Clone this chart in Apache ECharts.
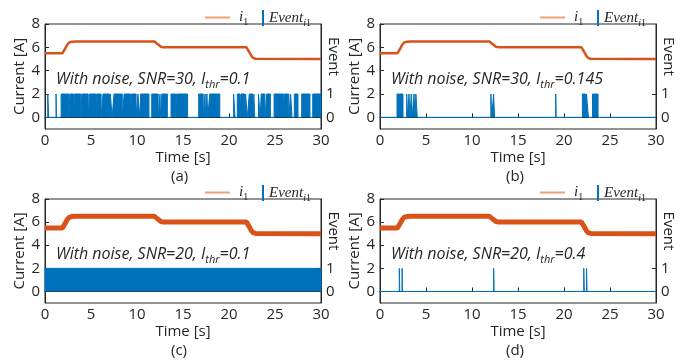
<!DOCTYPE html>
<html>
<head>
<meta charset="utf-8">
<script src="https://cdn.jsdelivr.net/npm/echarts@6/dist/echarts.min.js"></script>
<style>
  html, body { margin: 0; padding: 0; background: #fff; }
  #chart { width: 694px; height: 364px; }
</style>
</head>
<body>
<div id="chart"></div>
<script>
// current trace (same load profile in every panel)
const currentTime = [0, 1.9, 2.0, 2.2, 2.4, 2.6, 2.9, 3.3, 11.9, 12.0, 12.2, 12.4, 12.6, 12.9, 21.9, 22.0, 22.2, 22.4, 22.6, 22.9, 30];
const currentValue = [5.5, 5.5, 5.55, 5.9, 6.2, 6.4, 6.48, 6.5, 6.5, 6.48, 6.3, 6.15, 6.05, 6.0, 6.0, 5.95, 5.6, 5.3, 5.1, 5.02, 5.0];

// event = 1 intervals [start, end] in seconds
const eventsA = [
  [0.3, 0.4], [1.2, 1.25], [1.75, 2.6], [2.7, 3.1], [3.2, 3.9], [4.0, 4.7], [4.85, 5.6], [5.7, 6.1],
  [6.3, 7.0], [7.1, 7.3], [7.5, 8.4], [8.6, 9.3], [9.4, 9.9], [10.1, 10.3], [10.4, 11.3], [11.6, 12.3],
  [12.5, 12.55], [12.7, 13.3], [13.7, 14.2], [14.3, 15.5], [16.7, 17.2], [17.4, 17.45], [17.6, 17.7],
  [17.9, 19.0], [20.5, 20.65], [20.9, 21.2], [21.3, 21.7], [21.8, 22.0], [22.2, 22.6], [22.7, 22.8],
  [23.2, 23.4], [23.5, 23.9], [24.1, 24.5], [24.9, 25.9], [26.0, 26.5], [26.7, 26.85], [27.1, 27.5],
  [27.9, 28.8], [29.1, 30]
];
const eventsB = [
  [1.85, 2.1], [2.15, 2.5], [2.9, 3.0], [3.15, 3.25], [3.4, 3.5], [3.7, 3.8], [3.9, 4.05],
  [12.05, 12.15], [12.35, 12.45], [19.1, 19.15], [22.0, 22.35], [22.45, 22.65], [23.1, 23.35], [23.4, 23.7]
];
const eventsC = [[0, 30]];
const eventsD = [[2.1, 2.15], [2.4, 2.45], [12.35, 12.4], [22.15, 22.2], [22.45, 22.5]];

const leftTicks = [0, 2, 4, 6, 8];
const rightTicks = [0, 1];

const panels = [
  { tag: '(a)', snr: '30', thr: '0.1', events: eventsA, left: 45, top: 24, height: 105, lw: 2.5 },
  { tag: '(b)', snr: '30', thr: '0.145', events: eventsB, left: 380, top: 24, height: 105, lw: 2.5 },
  { tag: '(c)', snr: '20', thr: '0.1', events: eventsC, left: 45, top: 199, height: 104, lw: 5 },
  { tag: '(d)', snr: '20', thr: '0.4', events: eventsD, left: 380, top: 199, height: 104, lw: 5 }
];

const BLUE = '#0072BD';
const ORANGE = '#D95319';
const LEGEND_ORANGE = '#F0A070';
const INK = '#262626';
const SANS = 'Open Sans';
const SERIF = 'Liberation Serif';

function stepData(intervals) {
  const d = [[0, 0]];
  intervals.forEach(([s, e]) => { d.push([s, 0], [s, 1], [e, 1], [e, 0]); });
  d.push([30, 0]);
  return d;
}

const currentData = currentTime.map((t, i) => [t, currentValue[i]]);

const grid = [], xAxis = [], yAxis = [], series = [], legend = [], title = [];

panels.forEach((p, k) => {
  grid.push({ left: p.left, top: p.top, width: 276, height: p.height, show: true, borderColor: INK, borderWidth: 1 });
  xAxis.push({
    gridIndex: k, type: 'value', min: 0, max: 30, interval: 5,
    name: 'Time [s]', nameLocation: 'middle', nameGap: 21,
    nameTextStyle: { fontFamily: SANS, fontSize: 15, color: INK },
    axisLine: { lineStyle: { color: INK } },
    axisTick: { inside: true, length: 4, lineStyle: { color: INK } },
    axisLabel: { fontFamily: SANS, fontSize: 15, color: INK, margin: 4 },
    splitLine: { show: false }
  });
  yAxis.push({
    gridIndex: k, type: 'value', min: -1, max: 8, position: 'left',
    name: 'Current [A]', nameLocation: 'middle', nameGap: 18,
    nameTextStyle: { fontFamily: SANS, fontSize: 15, color: INK },
    axisLine: { show: true, lineStyle: { color: INK } },
    axisTick: { inside: true, length: 4, customValues: leftTicks, lineStyle: { color: INK } },
    axisLabel: { fontFamily: SANS, fontSize: 15, color: INK, margin: 5, customValues: leftTicks },
    splitLine: { show: false }
  });
  yAxis.push({
    gridIndex: k, type: 'value', min: -0.5, max: 4, position: 'right',
    name: 'Event', nameLocation: 'middle', nameGap: 5, nameRotate: -90, nameMoveOverlap: false,
    nameTextStyle: { fontFamily: SANS, fontSize: 15, color: INK, padding: [0, 40, 0, 0] },
    axisLine: { show: true, lineStyle: { color: INK } },
    axisTick: { inside: true, length: 4, customValues: rightTicks, lineStyle: { color: INK } },
    axisLabel: { fontFamily: SANS, fontSize: 15, color: INK, margin: 5, customValues: rightTicks },
    splitLine: { show: false }
  });
  series.push({
    name: 'Event' + k, type: 'line', xAxisIndex: k, yAxisIndex: 2 * k + 1,
    data: stepData(p.events), symbol: 'none', silent: true,
    lineStyle: { color: BLUE, width: 1 },
    itemStyle: { color: BLUE },
    areaStyle: { color: BLUE, opacity: 1 }
  });
  series.push({
    name: 'i' + k, type: 'line', xAxisIndex: k, yAxisIndex: 2 * k,
    data: currentData, symbol: 'none', silent: true,
    lineStyle: { color: ORANGE, width: p.lw },
    itemStyle: { color: ORANGE }
  });
  const legTop = p.top - 19;
  const legLeft = p.left + 155;
  legend.push({
    data: [{ name: 'i' + k, icon: 'path://M0,0h25v2h-25z', itemStyle: { color: LEGEND_ORANGE } }],
    left: legLeft, top: legTop, itemWidth: 25, itemHeight: 14,
    lineStyle: { width: 2, color: LEGEND_ORANGE },
    formatter: () => '{it|i}{sub|1}',
    textStyle: {
      padding: [0, 0, 0, 4],
      rich: {
        it: { fontFamily: SERIF, fontStyle: 'italic', fontSize: 15, color: INK, lineHeight: 20, verticalAlign: 'middle' },
        sub: { fontFamily: SERIF, fontSize: 10, color: INK, lineHeight: 20, verticalAlign: 'bottom' }
      }
    }
  });
  legend.push({
    data: [{ name: 'Event' + k, icon: 'rect' }], left: legLeft + 57, top: legTop, itemWidth: 2, itemHeight: 16,
    formatter: () => '{it|Event}{subi|i}{sub|1}',
    textStyle: {
      rich: {
        it: { fontFamily: SERIF, fontStyle: 'italic', fontSize: 15, color: INK, lineHeight: 20, verticalAlign: 'middle' },
        subi: { fontFamily: SERIF, fontStyle: 'italic', fontSize: 10, color: INK, lineHeight: 20, verticalAlign: 'bottom' },
        sub: { fontFamily: SERIF, fontSize: 10, color: INK, lineHeight: 20, verticalAlign: 'bottom' }
      }
    }
  });
  title.push({
    text: '{a|With noise, SNR=' + p.snr + ', I}{s|thr}{a|=' + p.thr + '}',
    left: p.left + 11, top: p.top + 44, padding: 0,
    textStyle: {
      fontWeight: 'normal',
      rich: {
        a: { fontFamily: SANS, fontStyle: 'italic', fontWeight: 'normal', fontSize: 16, color: INK, lineHeight: 22, verticalAlign: 'middle' },
        s: { fontFamily: SANS, fontStyle: 'italic', fontWeight: 'normal', fontSize: 11, color: INK, lineHeight: 22, verticalAlign: 'bottom' }
      }
    }
  });
  title.push({
    text: p.tag, left: p.left + 126, top: p.top + p.height + 40, padding: 0,
    textStyle: { fontFamily: SANS, fontSize: 15, fontWeight: 'normal', color: INK }
  });
});

const chart = echarts.init(document.getElementById('chart'), null, { renderer: 'canvas' });
chart.setOption({
  animation: false,
  backgroundColor: '#fff',
  title, legend, grid, xAxis, yAxis, series
});
</script>
</body>
</html>
